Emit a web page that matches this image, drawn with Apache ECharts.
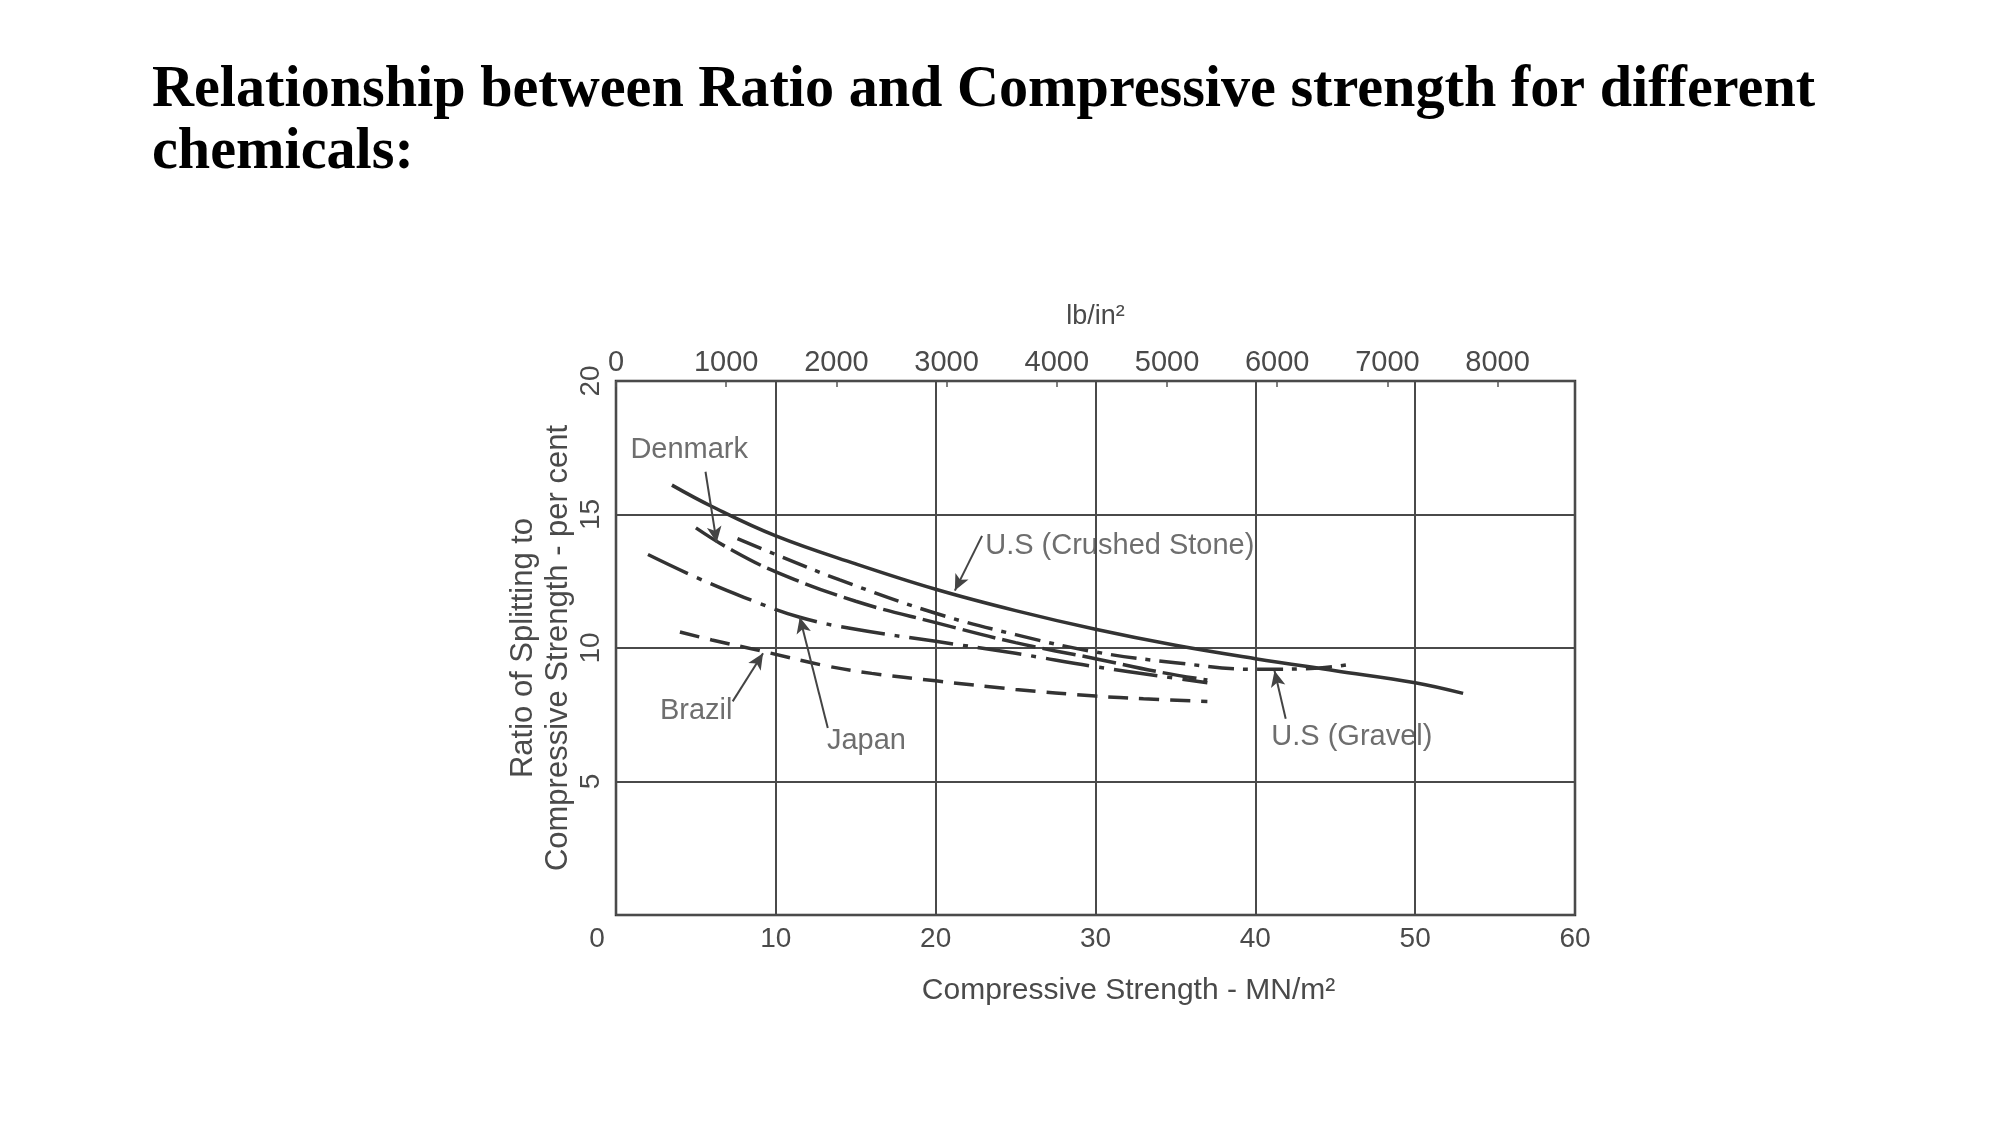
<!DOCTYPE html>
<html>
<head>
<meta charset="utf-8">
<script src="https://cdn.jsdelivr.net/npm/echarts@6/dist/echarts.min.js"></script>
<style>
html,body{margin:0;padding:0;background:#fff;}
#main{width:2001px;height:1125px;}
</style>
</head>
<body>
<div id="main"></div>
<script>
// ---- Data (Compressive strength MN/m^2 -> Ratio %) ----
const crushedX = [3.5, 6, 10, 15, 20, 25, 30, 35, 40, 45, 50, 53];
const crushedY = [16.1, 15.3, 14.2, 13.15, 12.2, 11.4, 10.7, 10.1, 9.6, 9.15, 8.7, 8.3];

const gravelX = [7.6, 10, 14, 20, 25, 30, 35, 40, 44, 46];
const gravelY = [14.1, 13.5, 12.55, 11.3, 10.5, 9.85, 9.45, 9.2, 9.25, 9.4];

const denmarkX = [5, 7, 10, 15, 20, 25, 30, 34, 37];
const denmarkY = [14.5, 13.75, 12.85, 11.75, 10.95, 10.2, 9.6, 9.1, 8.8];

const japanX = [2, 5, 8, 11.5, 15, 20, 25, 30, 34, 37];
const japanY = [13.5, 12.65, 11.9, 11.15, 10.7, 10.25, 9.8, 9.3, 8.95, 8.7];

const brazilX = [4, 6, 9, 13, 16, 20, 25, 30, 33, 37];
const brazilY = [10.6, 10.3, 9.9, 9.35, 9.05, 8.77, 8.45, 8.2, 8.1, 8.0];

// axis ticks
const mpaTicks = [0, 10, 20, 30, 40, 50, 60];
const psiTicks = [0, 1000, 2000, 3000, 4000, 5000, 6000, 7000, 8000];
const ratioTicks = [0, 5, 10, 15, 20];
const psiPerMpa = 145.0377;

// annotations (labels and arrows, in data units)
const annoText = ['Denmark', 'U.S (Crushed Stone)', 'U.S (Gravel)', 'Japan', 'Brazil'];
const annoX = [0.9, 23.1, 41.0, 13.2, 2.75];
const annoY = [17.4, 13.82, 6.68, 6.52, 7.64];
const arrowFromX = [5.6, 22.9, 41.9, 13.25, 7.3];
const arrowFromY = [16.6, 14.2, 7.35, 7.0, 8.0];
const arrowToX = [6.3, 21.2, 41.2, 11.5, 9.2];
const arrowToY = [13.95, 12.15, 9.15, 11.15, 9.8];

function zip(xs, ys) { return xs.map((x, i) => [x, ys[i]]); }

const chart = echarts.init(document.getElementById('main'), null, {renderer: 'canvas'});
const txtColor = '#4a4a4a';
const lineColor = '#333333';
const sans = '"Liberation Sans", Arial, sans-serif';

const option = {
  animation: false,
  backgroundColor: '#ffffff',
  title: {
    text: 'Relationship between Ratio and Compressive strength for different\nchemicals:',
    left: 152, top: 60, padding: 0,
    textStyle: {
      fontFamily: '"Liberation Serif", "Times New Roman", serif',
      fontWeight: 'bold', fontSize: 58.2, lineHeight: 62, color: '#000'
    }
  },
  grid: {
    left: 616, top: 381, width: 959, height: 534,
    show: true, borderColor: '#333', borderWidth: 2.5, backgroundColor: 'transparent'
  },
  xAxis: [
    {
      type: 'value', position: 'bottom',
      min: mpaTicks[0], max: mpaTicks[mpaTicks.length - 1], interval: 10,
      name: 'Compressive Strength - MN/m²', nameLocation: 'middle', nameGap: 61,
      nameTextStyle: { fontFamily: sans, fontSize: 30, color: txtColor, padding: [0, 0, 0, 66] },
      axisLine: { show: false }, axisTick: { show: false },
      splitLine: { show: true, lineStyle: { color: '#4a4a4a', width: 2 } },
      axisLabel: {
        margin: 10, fontFamily: sans, fontSize: 28, color: txtColor,
        formatter: v => v === 0 ? '{z|0}' : String(v),
        rich: { z: { fontFamily: sans, fontSize: 28, color: txtColor, padding: [0, 38, 0, 0] } }
      }
    },
    {
      type: 'value', position: 'top',
      min: 0, max: mpaTicks[mpaTicks.length - 1] * psiPerMpa, interval: 1000,
      name: 'lb/in²', nameLocation: 'middle', nameGap: 51,
      nameTextStyle: { fontFamily: sans, fontSize: 27, color: txtColor },
      axisLine: { show: false },
      axisTick: { show: true, inside: true, length: 6, lineStyle: { color: '#555', width: 1.5 } },
      splitLine: { show: false },
      axisLabel: {
        margin: 4, fontFamily: sans, fontSize: 29, color: txtColor,
        showMaxLabel: false,
        formatter: v => psiTicks.indexOf(Math.round(v)) >= 0 ? String(Math.round(v)) : ''
      }
    }
  ],
  yAxis: {
    type: 'value', min: ratioTicks[0], max: ratioTicks[ratioTicks.length - 1], interval: 5,
    name: 'Ratio of Splitting to\nCompressive Strength - per cent',
    nameLocation: 'middle', nameGap: 38,
    nameTextStyle: { fontFamily: sans, fontSize: 31, lineHeight: 35, color: txtColor },
    axisLine: { show: false }, axisTick: { show: false },
    splitLine: { show: true, lineStyle: { color: '#4a4a4a', width: 2 } },
    axisLabel: {
      rotate: 90, margin: 11, fontFamily: sans, fontSize: 28, color: txtColor,
      formatter: v => v === 0 ? '' : String(v)
    }
  },
  series: [
    {
      name: 'U.S (Crushed Stone)', type: 'line', smooth: 0.4, symbol: 'none',
      data: zip(crushedX, crushedY),
      lineStyle: { color: lineColor, width: 3.5, type: 'solid' }
    },
    {
      name: 'U.S (Gravel)', type: 'line', smooth: 0.4, symbol: 'none',
      data: zip(gravelX, gravelY),
      lineStyle: { color: lineColor, width: 3.5, type: [26, 9, 5, 9] }
    },
    {
      name: 'Denmark', type: 'line', smooth: 0.4, symbol: 'none',
      data: zip(denmarkX, denmarkY),
      lineStyle: { color: lineColor, width: 3.5, type: [34, 7] }
    },
    {
      name: 'Japan', type: 'line', smooth: 0.4, symbol: 'none',
      data: zip(japanX, japanY),
      lineStyle: { color: lineColor, width: 3.5, type: [44, 10, 5, 10] }
    },
    {
      name: 'Brazil', type: 'line', smooth: 0.4, symbol: 'none',
      data: zip(brazilX, brazilY),
      lineStyle: { color: lineColor, width: 3.5, type: [20, 11] }
    },
    {
      name: 'annotations', type: 'scatter', symbolSize: 0, silent: true,
      data: annoX.map((x, i) => [x, annoY[i], annoText[i]]),
      label: {
        show: true, position: 'right', distance: 0,
        formatter: p => p.data[2],
        fontFamily: sans, fontSize: 29, color: txtColor
      },
      markLine: {
        silent: true, symbol: ['none', 'arrow'], symbolSize: [11, 16],
        lineStyle: { color: '#444', width: 2, type: 'solid' },
        label: { show: false },
        data: arrowFromX.map((x, i) => [
          { coord: [x, arrowFromY[i]] },
          { coord: [arrowToX[i], arrowToY[i]] }
        ])
      }
    }
  ]
};
chart.setOption(option);
</script>
</body>
</html>
